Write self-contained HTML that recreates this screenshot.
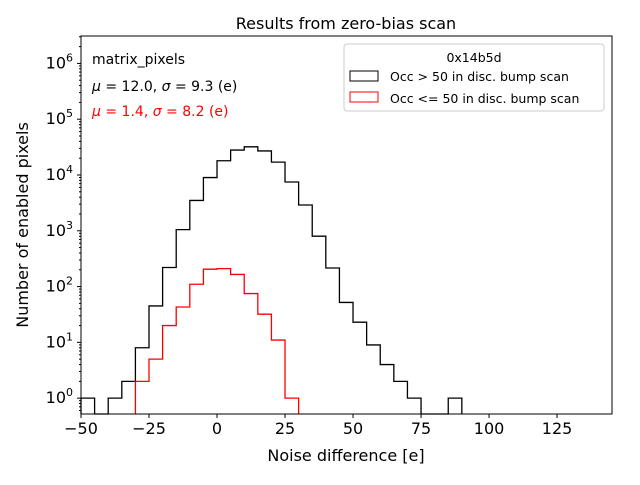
<!DOCTYPE html>
<html><head><meta charset="utf-8"><style>
body{margin:0;background:#fff}
svg text{font-family:"DejaVu Sans","Liberation Sans",sans-serif}
</style></head><body>
<svg id="chart" width="640" height="480" xmlns="http://www.w3.org/2000/svg">
<rect width="640" height="480" fill="#fff"/>
<text x="346" y="29" font-size="16" text-anchor="middle">Results from zero-bias scan</text>
<g id="plot"></g>
<rect x="81" y="36" width="531" height="378" fill="none" stroke="#000" stroke-width="1"/>
<text x="346" y="461" font-size="16" text-anchor="middle">Noise difference [e]</text>
<text transform="translate(28,225) rotate(-90)" font-size="16" text-anchor="middle">Number of enabled pixels</text>
<text x="92" y="64" font-size="14">matrix_pixels</text>
<text x="92" y="91" font-size="14"><tspan font-style="italic">μ</tspan> = 12.0, <tspan font-style="italic">σ</tspan> = 9.3 (e)</text>
<text x="92" y="116" font-size="14" fill="#ff0000"><tspan font-style="italic">μ</tspan> = 1.4, <tspan font-style="italic">σ</tspan> = 8.2 (e)</text>
<g>
<rect x="344" y="44" width="260" height="67" rx="3" fill="#fff" fill-opacity="0.8" stroke="#ccc"/>
<text x="474" y="62" font-size="12.5" text-anchor="middle">0x14b5d</text>
<rect x="350" y="71" width="28" height="10" fill="none" stroke="#000"/>
<text x="390" y="81" font-size="12.5">Occ &gt; 50 in disc. bump scan</text>
<rect x="350" y="92" width="28" height="10" fill="none" stroke="#ff0000"/>
<text x="390" y="103" font-size="12.5">Occ &lt;= 50 in disc. bump scan</text>
</g>
</svg>
<script>
const binEdgesStart = -50;
const binWidth = 5;
const blackCounts = [1,0,1,2,8,45,220,1050,3500,9000,18000,28000,32000,27000,17000,7500,2900,800,215,52,23,9,4,2,1,0,0,1];
const redStartBin = -30;
const redCounts = [2,5,20,43,110,205,210,165,75,32,11,1];
const xTicks = [-50,-25,0,25,50,75,100,125];
const yTickExps = [0,1,2,3,4,5,6];
const X0=81,X1=612,Y0=36,Y1=414;
const xmin=-50,xmax=145.2;
const lmin=Math.log10(0.52),lmax=Math.log10(3.1e6);
function xs(v){return X0+(v-xmin)/(xmax-xmin)*(X1-X0);}
function ys(v){if(v<=0)return Y1;return Y1-(Math.log10(v)-lmin)/(lmax-lmin)*(Y1-Y0);}
const NS='http://www.w3.org/2000/svg';
const g=document.getElementById('plot');
function mk(t,a){const e=document.createElementNS(NS,t);for(const k in a)e.setAttribute(k,a[k]);g.appendChild(e);return e;}
function stepPath(start,counts){
  let d='M'+xs(start)+','+Y1;
  counts.forEach((c,i)=>{const xa=xs(start+i*binWidth),xb=xs(start+(i+1)*binWidth),y=ys(c);d+=' L'+xa+','+y+' L'+xb+','+y;});
  d+=' L'+xs(start+counts.length*binWidth)+','+Y1;
  return d;
}
const pb=mk('path',{d:stepPath(binEdgesStart,blackCounts),fill:'none',stroke:'#000','stroke-width':1.3});


const pr=mk('path',{d:stepPath(redStartBin,redCounts),fill:'none',stroke:'#ff0000','stroke-width':1.3});


xTicks.forEach(v=>{
  const x=xs(v);
  const l=mk('line',{x1:x,x2:x,y1:Y1,y2:Y1+4,stroke:'#000'});
  
  
  const t=mk('text',{x:x,y:Y1+20,'font-size':16,'text-anchor':'middle'});
  t.textContent=v<0?'\u2212'+(-v):String(v);
  
  
});
yTickExps.forEach(e=>{
  const y=ys(Math.pow(10,e));
  const l=mk('line',{x1:X0-4,x2:X0,y1:y,y2:y,stroke:'#000'});
  
  
  const t=mk('text',{x:X0-8,y:y+5,'font-size':16,'text-anchor':'end'});
  t.innerHTML='10<tspan dy="-7" font-size="11">'+e+'</tspan>';
  
  
  for(let m=2;m<10;m++){
    const v=m*Math.pow(10,e-1);
    if(v<0.52)continue;
    const ym=ys(v);
    const ml=mk('line',{x1:X0-2,x2:X0,y1:ym,y2:ym,stroke:'#000'});
    
    
  }
});
for(let m=2;m<10;m++){const ym=ys(m*1e6);if(ym<Y0)break;const ml=mk('line',{x1:X0-2,x2:X0,y1:ym,y2:ym,stroke:'#000'});}
</script>
</body></html>
